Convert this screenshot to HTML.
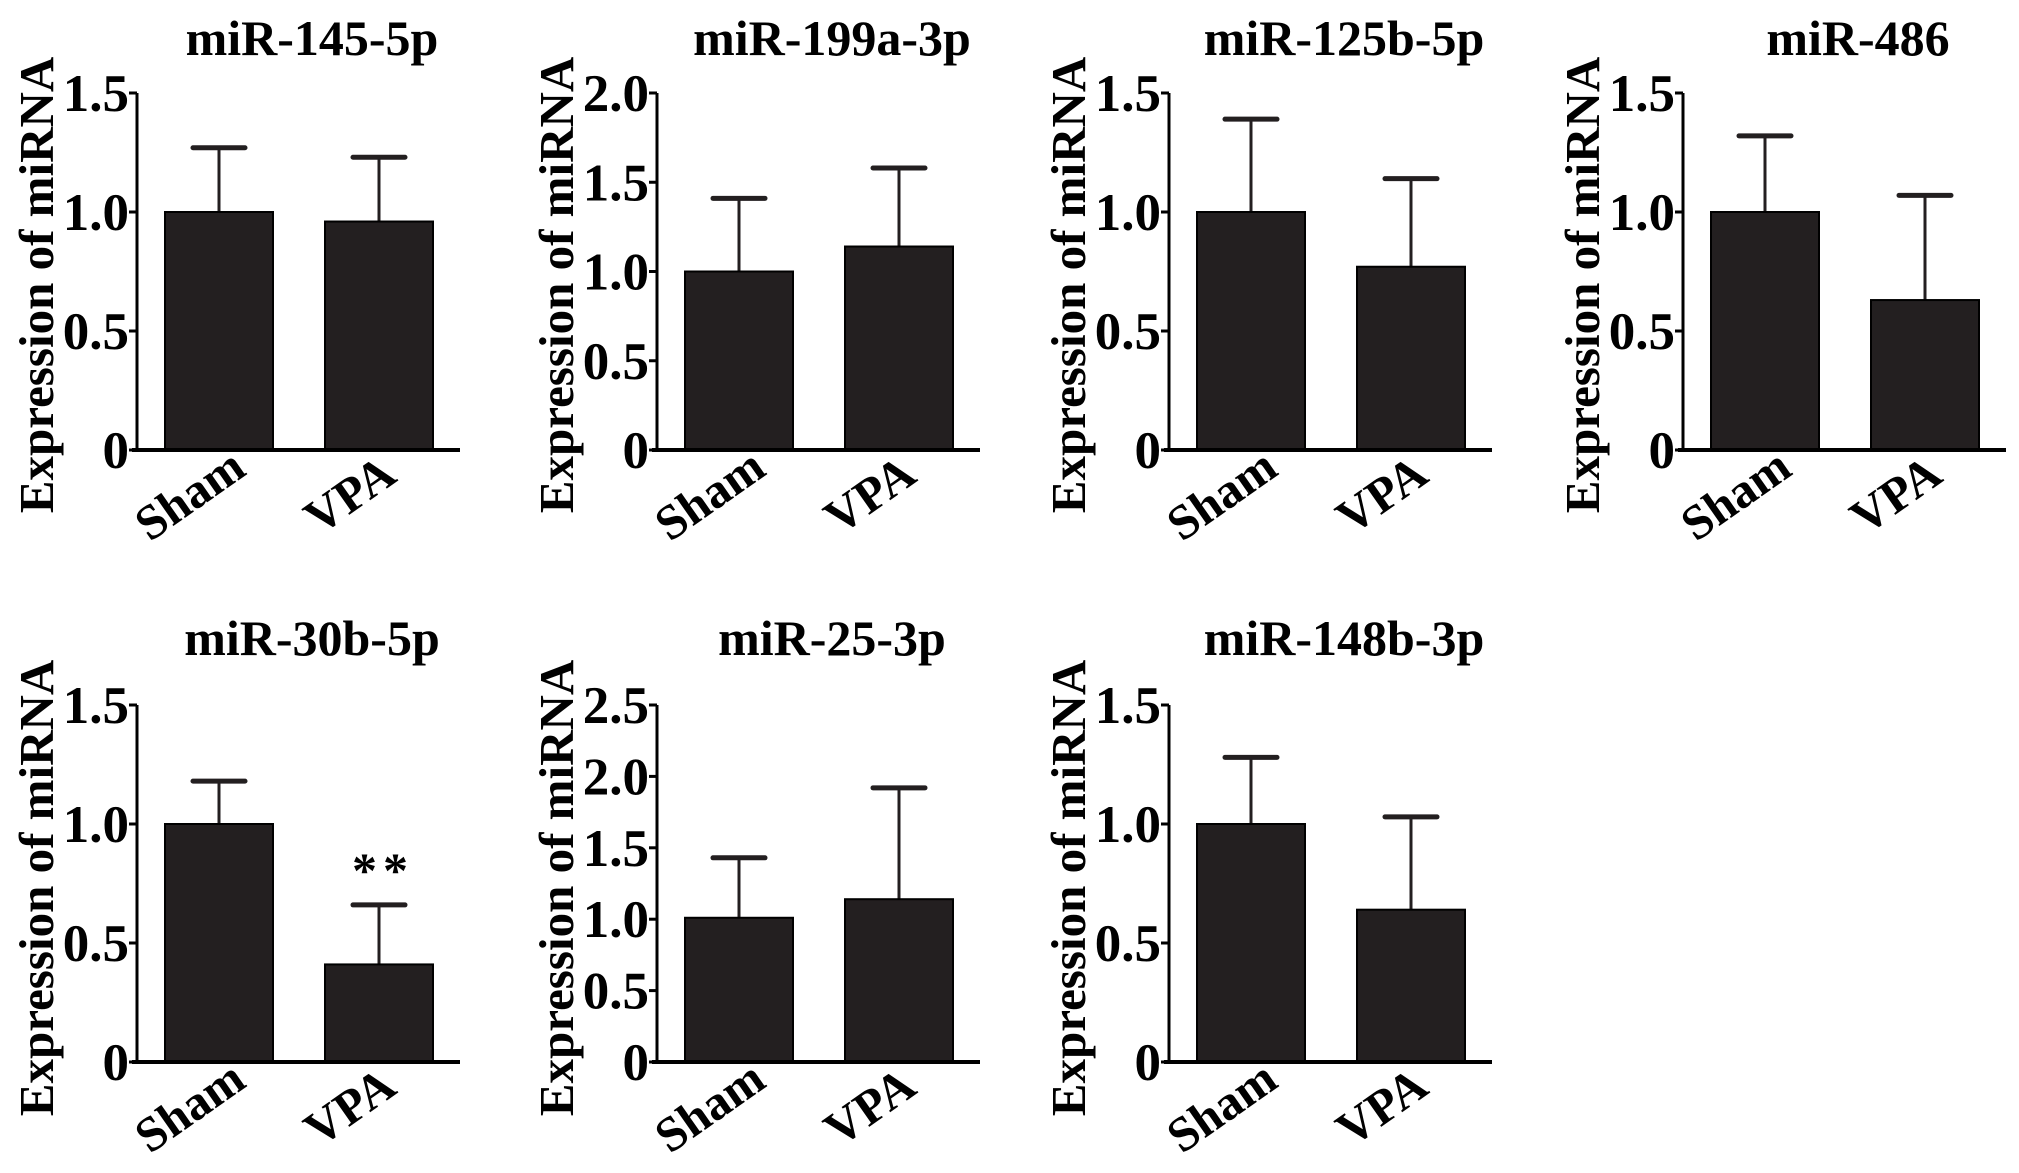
<!DOCTYPE html>
<html><head><meta charset="utf-8">
<style>
html,body{margin:0;padding:0;background:#fff;}
svg{display:block;}
text{font-family:"Liberation Serif",serif;font-weight:bold;fill:#000;}
</style></head>
<body>
<svg id="fig" width="2019" height="1173" viewBox="0 0 2019 1173"></svg>
<script>
const panelTitles = ["miR-145-5p","miR-199a-3p","miR-125b-5p","miR-486","miR-30b-5p","miR-25-3p","miR-148b-3p"];
const categories = ["Sham","VPA"];
const shamMeans = [1.0,1.0,1.0,1.0,1.0,1.01,1.0];
const shamErrTop = [1.27,1.41,1.39,1.32,1.18,1.43,1.28];
const vpaMeans = [0.96,1.14,0.77,0.63,0.41,1.14,0.64];
const vpaErrTop = [1.23,1.58,1.14,1.07,0.66,1.92,1.03];
const yMax = [1.5,2.0,1.5,1.5,1.5,2.5,1.5];
const yTicks = [
  ["0","0.5","1.0","1.5"],
  ["0","0.5","1.0","1.5","2.0"],
  ["0","0.5","1.0","1.5"],
  ["0","0.5","1.0","1.5"],
  ["0","0.5","1.0","1.5"],
  ["0","0.5","1.0","1.5","2.0","2.5"],
  ["0","0.5","1.0","1.5"]
];
const significance = ["","","","","**","",""];

const NS = "http://www.w3.org/2000/svg";
const svg = document.getElementById("fig");
const colX = [0,520,1032,1546];
const rowY = [0,612];
function mk(tag, attrs, parent){
  const e = document.createElementNS(NS, tag);
  for (const k in attrs) e.setAttribute(k, attrs[k]);
  parent.appendChild(e);
  return e;
}
panelTitles.forEach((title, i) => {
  const row = Math.floor(i / 4);
  const ox = colX[i % 4], oy = rowY[row];
  const g = mk("g", {transform:`translate(${ox},${oy})`}, svg);
  
  
  const axX = 137, top = 93, zero = 450, axEnd = 460;
  const y = v => zero - (v / yMax[i]) * (zero - top);
  const xs = [219, 379], bw = 108;

  const t = mk("text", {x:312, y:row ? 43 : 55, "font-size":50, "text-anchor":"middle"}, g);
  t.textContent = title;
  
  

  const yt = mk("text", {x:0, y:0, "font-size":49, "text-anchor":"middle", transform:`translate(53,${row ? 276 : 285}) rotate(-90)`}, g);
  yt.textContent = "Expression of miRNA";
  
  

  const means = [shamMeans[i], vpaMeans[i]];
  const errs = [shamErrTop[i], vpaErrTop[i]];
  means.forEach((m, j) => {
    const cx = xs[j];
    const eb = mk("line", {x1:cx, x2:cx, y1:y(m), y2:y(errs[j]), stroke:"#231f20", "stroke-width":3}, g);
    
    
    const cap = mk("line", {x1:cx-26, x2:cx+26, y1:y(errs[j]), y2:y(errs[j]), stroke:"#231f20", "stroke-width":5, "stroke-linecap":"round"}, g);
    
    
    const r = mk("rect", {x:cx-bw/2, y:y(m), width:bw, height:zero - y(m), fill:"#231f20", stroke:"#000", "stroke-width":2}, g);
    
    
    const xl = mk("text", {x:0, y:0, "font-size":49, "text-anchor":"middle", transform:`translate(${cx-20},${508}) rotate(-35)`}, g);
    xl.textContent = categories[j];
    
    
  });
  if (significance[i]) {
    const s = mk("text", {x:xs[1]+4, y:y(errs[1]) - 18, "font-size":50, "font-weight":"normal", "text-anchor":"middle", "letter-spacing":"6"}, g);
    s.textContent = significance[i];
    
    
  }
  const ya = mk("line", {x1:axX, x2:axX, y1:top, y2:zero, stroke:"#000", "stroke-width":3}, g);
  
  
  const xa = mk("line", {x1:axX-5, x2:axEnd, y1:zero, y2:zero, stroke:"#000", "stroke-width":4}, g);
  
  
  yTicks[i].forEach(lbl => {
    const v = parseFloat(lbl);
    const tk = mk("line", {x1:axX-8, x2:axX, y1:y(v), y2:y(v), stroke:"#000", "stroke-width":3}, g);
    
    
    const tl = mk("text", {x:axX-8, y:y(v)+18, "font-size":53, "text-anchor":"end"}, g);
    tl.textContent = lbl;
    
    
  });
});
</script>
</body></html>
